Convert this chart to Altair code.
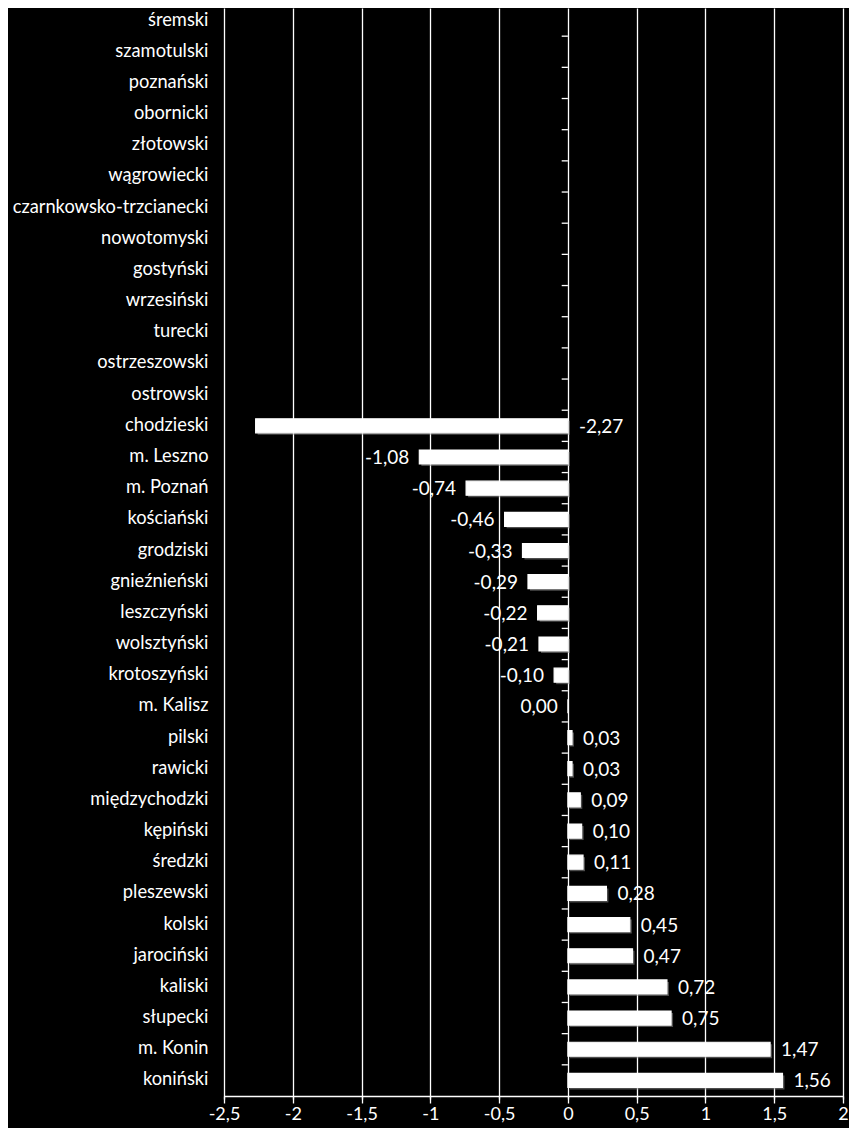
import altair as alt
import pandas as pd

categories = ["śremski", "szamotulski", "poznański", "obornicki", "złotowski",
              "wągrowiecki", "czarnkowsko-trzcianecki", "nowotomyski", "gostyński",
              "wrzesiński", "turecki", "ostrzeszowski", "ostrowski", "chodzieski",
              "m. Leszno", "m. Poznań", "kościański", "grodziski", "gnieźnieński",
              "leszczyński", "wolsztyński", "krotoszyński", "m. Kalisz", "pilski",
              "rawicki", "międzychodzki", "kępiński", "średzki", "pleszewski",
              "kolski", "jarociński", "kaliski", "słupecki", "m. Konin", "koniński"]
values = [None, None, None, None, None, None, None, None, None, None, None, None, None,
          -2.27, -1.08, -0.74, -0.46, -0.33, -0.29, -0.22, -0.21, -0.10, 0.00,
          0.03, 0.03, 0.09, 0.10, 0.11, 0.28, 0.45, 0.47, 0.72, 0.75, 1.47, 1.56]
x_ticks = [-2.5, -2, -1.5, -1, -0.5, 0, 0.5, 1, 1.5, 2]

df = pd.DataFrame({"cat": categories, "val": values})
lab = df.dropna().copy()
lab["label"] = lab["val"].map(lambda v: f"{v:.2f}".replace(".", ","))
lab["lx"] = lab["val"].map(lambda v: 0.0 if v < -2 else v)
lab["side"] = lab["val"].map(lambda v: "left" if (-2 <= v <= 0) else "right")

FONT = "Lato"
FS = 19

yscale = alt.Scale(domain=categories, range=[-3, 1088], paddingInner=0, paddingOuter=0)
xscale = alt.Scale(domain=[-2.5, 2], nice=False, zero=False)

y_axis = alt.Axis(title=None, domain=False, ticks=False, grid=False,
                  labelColor="white", labelFont=FONT, labelFontSize=18.3,
                  labelPadding=16, labelLimit=400)
x_axis = alt.Axis(title=None, values=x_ticks,
                  labelExpr="replace(datum.value + '', '.', ',')",
                  grid=True, gridColor="white", gridWidth=1.3, gridOpacity=1,
                  domainColor="white", domainWidth=1.3,
                  tickColor="white", tickSize=7, tickWidth=1.3,
                  labelColor="white", labelFont=FONT, labelFontSize=18,
                  labelPadding=2, labelFlush=False, labelOverlap=False)

y_enc = alt.Y("cat:N", sort=categories, scale=yscale, axis=y_axis, title=None)

shadow = alt.Chart(df).mark_bar(color="#8c8c8c", opacity=0.55, height=14,
                                xOffset=2, yOffset=2).encode(
    x=alt.X("val:Q", scale=xscale, axis=x_axis, title=None), y=y_enc)

bars = alt.Chart(df).mark_bar(color="white", stroke="white", strokeWidth=1.2,
                              height=14).encode(
    x=alt.X("val:Q", scale=xscale, axis=x_axis, title=None), y=y_enc)

ticks = alt.Chart(pd.DataFrame({"cat": categories, "a": [-0.045] * len(categories),
                                "b": [0.0] * len(categories)})).mark_rule(
    color="white", strokeWidth=1.3).encode(
    x=alt.X("a:Q", scale=xscale, axis=x_axis, title=None), x2="b:Q",
    y=alt.Y("cat:N", sort=categories, scale=yscale, axis=y_axis, title=None,
            bandPosition=0))

txt_left = alt.Chart(lab).transform_filter(alt.datum.side == "left").mark_text(
    align="right", baseline="middle", dx=-10, dy=1, color="white",
    font=FONT, fontSize=FS).encode(
    x=alt.X("lx:Q", scale=xscale, axis=x_axis, title=None), y=y_enc, text="label:N")

txt_right = alt.Chart(lab).transform_filter(alt.datum.side == "right").mark_text(
    align="left", baseline="middle", dx=11, dy=1, color="white",
    font=FONT, fontSize=FS).encode(
    x=alt.X("lx:Q", scale=xscale, axis=x_axis, title=None), y=y_enc, text="label:N")

chart = alt.layer(shadow, bars, ticks, txt_left, txt_right).properties(
    width=619, height=1088,
    autosize=alt.AutoSizeParams(type="none"),
    padding={"left": 216, "top": 0, "right": 6, "bottom": 32},
    background="black",
).configure_view(stroke=None)

chart.save("out.html", embed_options={"renderer": "svg", "actions": False})
